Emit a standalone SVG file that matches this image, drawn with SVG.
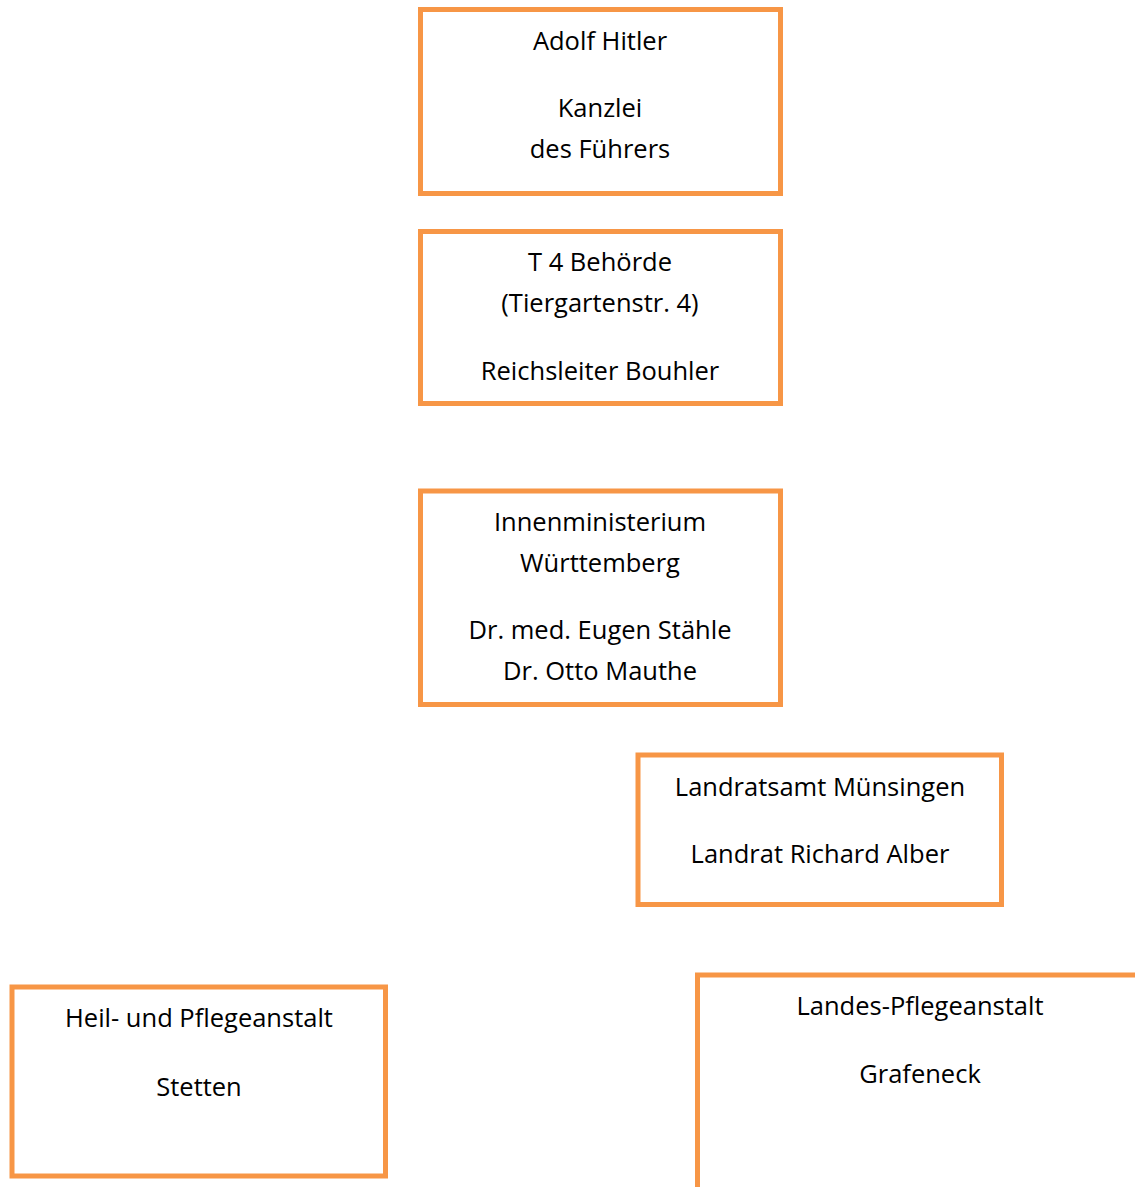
<svg xmlns="http://www.w3.org/2000/svg" width="1135" height="1187" viewBox="0 0 1135 1187">
<style>
.box{fill:#ffffff;stroke:#F79646;stroke-width:5}
.t{font-family:"Open Sans","Liberation Sans",sans-serif;font-size:25.5px;fill:#000000;text-anchor:middle}
</style>
<rect x="0" y="0" width="1135" height="1187" fill="#ffffff"/>
<g id="connectors"></g>
<g id="n1">
<rect class="box" x="420.5" y="9.5" width="360" height="184"/>
<text class="t" x="600" y="50">Adolf Hitler</text>
<text class="t" x="600" y="117">Kanzlei</text>
<text class="t" x="600" y="158">des Führers</text>
</g>
<g id="n2">
<rect class="box" x="420.5" y="231.5" width="360" height="172"/>
<text class="t" x="600" y="271">T 4 Behörde</text>
<text class="t" x="600" y="312">(Tiergartenstr. 4)</text>
<text class="t" x="600" y="380">Reichsleiter Bouhler</text>
</g>
<g id="n3">
<rect class="box" x="420.5" y="491" width="360" height="213.5"/>
<text class="t" x="600" y="531">Innenministerium</text>
<text class="t" x="600" y="572">Württemberg</text>
<text class="t" x="600" y="639">Dr. med. Eugen Stähle</text>
<text class="t" x="600" y="680">Dr. Otto Mauthe</text>
</g>
<g id="n4">
<rect class="box" x="638" y="755" width="363.5" height="149.5"/>
<text class="t" x="820" y="796">Landratsamt Münsingen</text>
<text class="t" x="820" y="863">Landrat Richard Alber</text>
</g>
<g id="n5">
<rect class="box" x="12" y="987" width="373.5" height="189"/>
<text class="t" x="199" y="1027">Heil- und Pflegeanstalt</text>
<text class="t" x="199" y="1096">Stetten</text>
</g>
<g id="n6">
<rect class="box" x="697.5" y="975" width="460" height="240"/>
<text class="t" x="920" y="1015">Landes-Pflegeanstalt</text>
<text class="t" x="920" y="1083">Grafeneck</text>
</g>
</svg>
